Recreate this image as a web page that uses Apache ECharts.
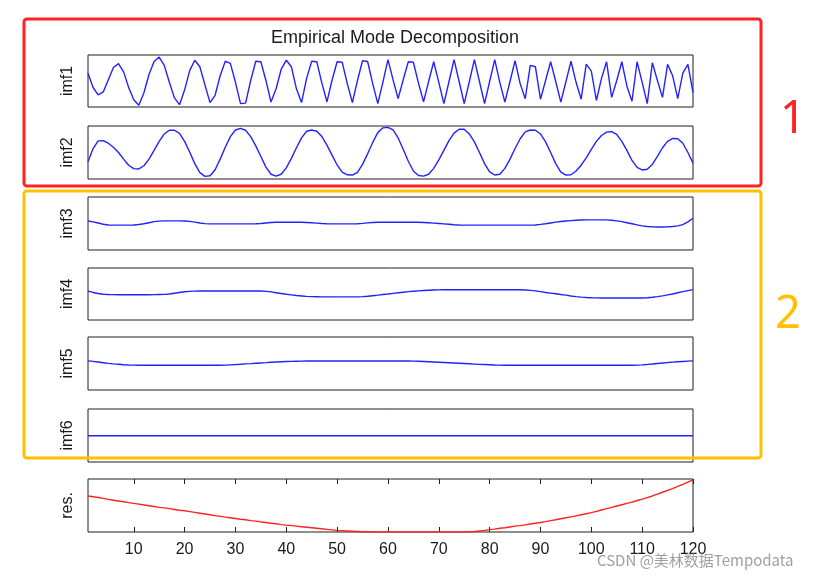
<!DOCTYPE html>
<html><head><meta charset="utf-8">
<script src="https://cdn.jsdelivr.net/npm/echarts@6/dist/echarts.min.js"></script>
<style>html,body{margin:0;padding:0;background:#fff}#c{width:827px;height:582px}</style>
</head><body><div id="c"></div>
<script>
// ---------- data ----------
const panelNames = ['imf1', 'imf2', 'imf3', 'imf4', 'imf5', 'imf6', 'res.'];
const sampleCount = 120;
const xTickLabels = [10, 20, 30, 40, 50, 60, 70, 80, 90, 100, 110, 120];

const imf1 = [
  0.3, -0.25, -0.53, -0.42, 0.05, 0.52, 0.67, 0.35, -0.25, -0.72,
  -0.93, -0.45, 0.25, 0.75, 0.92, 0.6, -0.05, -0.65, -0.91, -0.35,
  0.4, 0.8, 0.55, -0.15, -0.83, -0.55, 0.2, 0.76, 0.68, -0.05,
  -0.87, -0.85, 0.02, 0.76, 0.74, 0.02, -0.81, -0.3, 0.45, 0.8,
  0.55, -0.3, -0.83, 0.1, 0.76, 0.74, -0.08, -0.8, 0.03, 0.74,
  0.72, -0.1, -0.83, 0.02, 0.78, 0.75, -0.1, -0.87, -0.05, 0.82,
  0.05, -0.68, 0.05, 0.74, 0.72, -0.08, -0.8, -0.02, 0.74, -0.05,
  -0.87, -0.03, 0.82, -0.02, -0.87, -0.03, 0.82, -0.02, -0.87, -0.02,
  0.82, -0.05, -0.81, -0.02, 0.78, -0.1, -0.68, 0.6, 0.55, -0.7,
  0.02, 0.74, -0.02, -0.81, -0.03, 0.76, -0.05, -0.7, 0.65, 0.38,
  -0.75, 0.1, 0.74, -0.63, 0.02, 0.74, -0.2, -0.78, 0.74, -0.05,
  -0.87, 0.7, 0.02, -0.63, 0.64, 0.2, -0.68, 0.3, 0.64, -0.45
];
const imf2 = [
  -0.35, 0.15, 0.44, 0.45, 0.35, 0.2, 0.0, -0.25, -0.48, -0.61,
  -0.62, -0.5, -0.25, 0.08, 0.42, 0.7, 0.84, 0.84, 0.72, 0.42,
  0.02, -0.42, -0.76, -0.9, -0.88, -0.65, -0.25, 0.2, 0.6, 0.85,
  0.91, 0.84, 0.6, 0.25, -0.15, -0.55, -0.82, -0.89, -0.82, -0.58,
  -0.22, 0.18, 0.55, 0.8, 0.85, 0.8, 0.6, 0.28, -0.1, -0.47,
  -0.74, -0.84, -0.85, -0.75, -0.45, -0.05, 0.38, 0.75, 0.93, 0.95,
  0.85, 0.55, 0.12, -0.33, -0.7, -0.87, -0.89, -0.82, -0.6, -0.28,
  0.08, 0.45, 0.73, 0.88, 0.88, 0.7, 0.4, 0.0, -0.42, -0.73,
  -0.85, -0.82, -0.6, -0.25, 0.15, 0.52, 0.78, 0.85, 0.84, 0.7,
  0.4, 0.0, -0.42, -0.74, -0.85, -0.84, -0.7, -0.48, -0.2, 0.12,
  0.42, 0.64, 0.77, 0.79, 0.68, 0.42, 0.08, -0.3, -0.56, -0.66,
  -0.63, -0.45, -0.15, 0.18, 0.42, 0.53, 0.52, 0.35, 0.0, -0.4
];
const imf3 = [
  0.095, 0.06, 0.02, -0.03, -0.055, -0.06, -0.06, -0.06, -0.06, -0.055,
  -0.04, -0.01, 0.03, 0.07, 0.09, 0.1, 0.1, 0.1, 0.1, 0.095,
  0.08, 0.05, 0.02, -0.005, -0.015, -0.015, -0.015, -0.015, -0.015, -0.015,
  -0.015, -0.015, -0.015, -0.01, 0.0, 0.02, 0.035, 0.045, 0.048, 0.048,
  0.048, 0.048, 0.048, 0.04, 0.03, 0.015, 0.0, -0.01, -0.015, -0.015,
  -0.015, -0.015, -0.015, -0.01, 0.005, 0.025, 0.04, 0.045, 0.048, 0.048,
  0.048, 0.048, 0.048, 0.048, 0.048, 0.048, 0.04, 0.03, 0.015, 0.0,
  -0.015, -0.03, -0.045, -0.055, -0.06, -0.062, -0.062, -0.062, -0.062, -0.062,
  -0.062, -0.062, -0.062, -0.062, -0.062, -0.062, -0.062, -0.062, -0.055, -0.035,
  -0.01, 0.02, 0.05, 0.075, 0.095, 0.11, 0.125, 0.13, 0.135, 0.135,
  0.135, 0.135, 0.135, 0.125, 0.1, 0.07, 0.03, -0.01, -0.05, -0.09,
  -0.115, -0.125, -0.13, -0.13, -0.125, -0.115, -0.09, -0.04, 0.06, 0.2
];
const imf4 = [
  0.11, 0.06, 0.02, -0.01, -0.02, -0.025, -0.03, -0.03, -0.03, -0.03,
  -0.03, -0.03, -0.03, -0.025, -0.02, -0.015, 0.0, 0.03, 0.06, 0.085,
  0.1, 0.11, 0.115, 0.115, 0.115, 0.115, 0.115, 0.115, 0.115, 0.115,
  0.115, 0.115, 0.115, 0.115, 0.115, 0.1, 0.08, 0.05, 0.02, -0.01,
  -0.035, -0.06, -0.075, -0.09, -0.1, -0.105, -0.11, -0.11, -0.11, -0.11,
  -0.11, -0.11, -0.11, -0.11, -0.1, -0.085, -0.065, -0.045, -0.02, 0.0,
  0.025, 0.05, 0.07, 0.09, 0.105, 0.12, 0.135, 0.145, 0.155, 0.16,
  0.165, 0.165, 0.165, 0.165, 0.165, 0.165, 0.165, 0.165, 0.165, 0.165,
  0.165, 0.165, 0.165, 0.165, 0.165, 0.165, 0.155, 0.14, 0.12, 0.09,
  0.06, 0.035, 0.01, -0.02, -0.045, -0.075, -0.1, -0.12, -0.135, -0.145,
  -0.15, -0.155, -0.155, -0.155, -0.155, -0.155, -0.155, -0.155, -0.155, -0.155,
  -0.145, -0.125, -0.1, -0.07, -0.035, 0.0, 0.05, 0.09, 0.13, 0.17
];
const imf5 = [
  0.1, 0.08, 0.055, 0.03, 0.005, -0.015, -0.03, -0.045, -0.055, -0.062,
  -0.068, -0.068, -0.068, -0.068, -0.068, -0.068, -0.068, -0.068, -0.068, -0.068,
  -0.068, -0.068, -0.068, -0.068, -0.068, -0.068, -0.068, -0.062, -0.05, -0.04,
  -0.028, -0.015, -0.005, 0.008, 0.02, 0.032, 0.045, 0.055, 0.065, 0.073,
  0.08, 0.085, 0.09, 0.094, 0.094, 0.094, 0.094, 0.094, 0.094, 0.094,
  0.094, 0.094, 0.094, 0.094, 0.094, 0.094, 0.094, 0.094, 0.094, 0.094,
  0.094, 0.094, 0.094, 0.094, 0.09, 0.083, 0.075, 0.066, 0.057, 0.048,
  0.038, 0.028, 0.018, 0.008, -0.002, -0.012, -0.022, -0.032, -0.04, -0.048,
  -0.055, -0.06, -0.064, -0.068, -0.068, -0.068, -0.068, -0.068, -0.068, -0.068,
  -0.068, -0.068, -0.068, -0.068, -0.068, -0.068, -0.068, -0.068, -0.068, -0.068,
  -0.068, -0.068, -0.068, -0.068, -0.068, -0.068, -0.068, -0.068, -0.062, -0.05,
  -0.035, -0.018, 0.0, 0.018, 0.035, 0.05, 0.065, 0.078, 0.09, 0.1
];
const imf6 = [
  -0.01, -0.01, -0.01, -0.01, -0.01, -0.01, -0.01, -0.01, -0.01, -0.01,
  -0.01, -0.01, -0.01, -0.01, -0.01, -0.01, -0.01, -0.01, -0.01, -0.01,
  -0.01, -0.01, -0.01, -0.01, -0.01, -0.01, -0.01, -0.01, -0.01, -0.01,
  -0.01, -0.01, -0.01, -0.01, -0.01, -0.01, -0.01, -0.01, -0.01, -0.01,
  -0.01, -0.01, -0.01, -0.01, -0.01, -0.01, -0.01, -0.01, -0.01, -0.01,
  -0.01, -0.01, -0.01, -0.01, -0.01, -0.01, -0.01, -0.01, -0.01, -0.01,
  -0.01, -0.01, -0.01, -0.01, -0.01, -0.01, -0.01, -0.01, -0.01, -0.01,
  -0.01, -0.01, -0.01, -0.01, -0.01, -0.01, -0.01, -0.01, -0.01, -0.01,
  -0.01, -0.01, -0.01, -0.01, -0.01, -0.01, -0.01, -0.01, -0.01, -0.01,
  -0.01, -0.01, -0.01, -0.01, -0.01, -0.01, -0.01, -0.01, -0.01, -0.01,
  -0.01, -0.01, -0.01, -0.01, -0.01, -0.01, -0.01, -0.01, -0.01, -0.01,
  -0.01, -0.01, -0.01, -0.01, -0.01, -0.01, -0.01, -0.01, -0.01, -0.01
];
const residue = [
  0.36, 0.33, 0.30, 0.27, 0.23, 0.20, 0.17, 0.14, 0.11, 0.08,
  0.05, 0.02, -0.01, -0.04, -0.07, -0.09, -0.12, -0.15, -0.18, -0.2,
  -0.23, -0.26, -0.29, -0.32, -0.35, -0.38, -0.41, -0.44, -0.46, -0.49,
  -0.52, -0.54, -0.57, -0.59, -0.62, -0.64, -0.67, -0.69, -0.72, -0.74,
  -0.76, -0.78, -0.80, -0.82, -0.84, -0.86, -0.88, -0.9, -0.92, -0.94,
  -0.95, -0.96, -0.97, -0.98, -0.99, -0.99, -1.0, -1.0, -1.0, -1.0,
  -1.0, -1.0, -1.0, -1.0, -1.0, -1.0, -1.0, -1.0, -1.0, -1.0,
  -1.0, -1.0, -1.0, -1.0, -1.0, -0.99, -0.98, -0.96, -0.94, -0.91,
  -0.89, -0.86, -0.84, -0.81, -0.78, -0.76, -0.73, -0.70, -0.67, -0.64,
  -0.61, -0.57, -0.54, -0.50, -0.46, -0.43, -0.39, -0.35, -0.31, -0.27,
  -0.22, -0.17, -0.12, -0.07, -0.02, 0.03, 0.08, 0.13, 0.19, 0.24,
  0.30, 0.36, 0.43, 0.50, 0.57, 0.64, 0.72, 0.80, 0.88, 0.97
];
const seriesValues = [imf1, imf2, imf3, imf4, imf5, imf6, residue];

// ---------- layout ----------
const panelTops = [55, 126, 197, 268, 337, 409, 479];
const panelHeights = [52, 53, 53, 52, 53, 53, 53];
const lineColors = ['#2222ff', '#2222ff', '#2222ff', '#2222ff', '#2222ff', '#2222ff', '#ff2222'];

const font = '"Liberation Sans", Arial, sans-serif';
const grids = [], xAxes = [], yAxes = [], series = [];
panelNames.forEach((name, i) => {
  grids.push({ left: 88, width: 605, top: panelTops[i], height: panelHeights[i],
    show: true, borderColor: '#1e1e1e', borderWidth: 1, backgroundColor: '#fff' });
  const isLast = i === panelNames.length - 1;
  xAxes.push({
    type: 'value', gridIndex: i, min: 1, max: sampleCount, position: 'bottom',
    show: isLast,
    axisLine: { show: false, onZero: false },
    splitLine: { show: false },
    axisTick: { show: true, inside: true, length: 5, lineStyle: { color: '#1e1e1e' }, customValues: xTickLabels },
    axisLabel: { show: true, margin: 10, fontSize: 16, fontFamily: font, color: '#1a1a1a', customValues: xTickLabels }
  });
  yAxes.push({
    type: 'value', gridIndex: i, min: -1, max: 1,
    name: name, nameLocation: 'middle', nameRotate: 90, nameGap: 12,
    nameTextStyle: { fontSize: 16, fontFamily: font, color: '#1a1a1a' },
    axisLine: { show: false, onZero: false }, axisTick: { show: false },
    axisLabel: { show: false }, splitLine: { show: false }
  });
  const vals = seriesValues[i];
  series.push({
    type: 'line', xAxisIndex: i, yAxisIndex: i, showSymbol: false, silent: true,
    data: vals.map((v, k) => [k + 1, v]),
    lineStyle: { color: lineColors[i], width: 1.4 },
    clip: true
  });
});
// top ticks of residue panel
xAxes.push({
  type: 'value', gridIndex: 6, min: 1, max: sampleCount, position: 'top',
  axisLine: { show: false, onZero: false }, splitLine: { show: false },
  axisTick: { show: true, inside: true, length: 5, lineStyle: { color: '#1e1e1e' }, customValues: xTickLabels },
  axisLabel: { show: false }
});

const chart = echarts.init(document.getElementById('c'), null, { renderer: 'canvas' });
chart.setOption({
  animation: false,
  backgroundColor: '#fff',
  title: { text: 'Empirical Mode Decomposition', left: 390, textAlign: 'center', top: 24,
    textStyle: { fontSize: 18, fontWeight: 'normal', fontFamily: font, color: '#1a1a1a' } },
  grid: grids, xAxis: xAxes, yAxis: yAxes, series: series,
  graphic: [
    { type: 'rect', z: 100, shape: { x: 24, y: 19, width: 737, height: 167, r: 3 },
      style: { fill: 'none', stroke: '#ff2222', lineWidth: 3 } },
    { type: 'rect', z: 100, shape: { x: 24, y: 191, width: 737, height: 267, r: 3 },
      style: { fill: 'none', stroke: '#ffc000', lineWidth: 3 } },
    { type: 'text', z: 100, left: 780, top: 98,
      style: { text: '1', fontSize: 45, fontFamily: '"Noto Sans", sans-serif', fill: '#ff2222' } },
    { type: 'text', z: 100, left: 775, top: 293,
      style: { text: '2', fontSize: 45, fontFamily: '"Noto Sans", sans-serif', fill: '#ffc000' } },
    { type: 'text', z: 100, left: 597, top: 553,
      style: { text: 'CSDN @美林数据Tempodata', fontSize: 15, fontFamily: '"Noto Sans CJK SC", "Noto Sans", sans-serif', fill: '#a0a0a0' } }
  ]
});
</script></body></html>
